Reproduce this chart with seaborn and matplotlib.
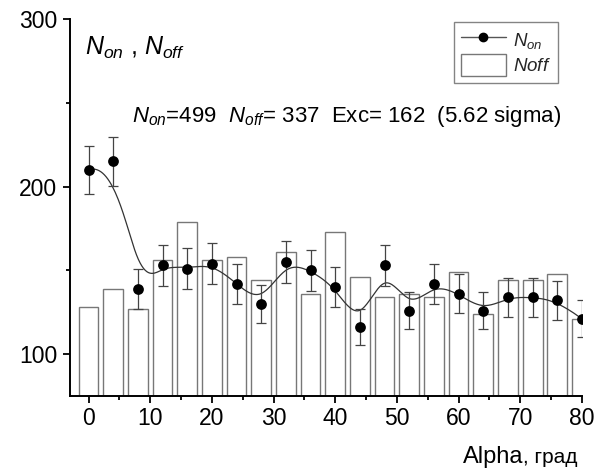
import numpy as np
import pandas as pd
import matplotlib
matplotlib.use("Agg")
import matplotlib.pyplot as plt
import seaborn as sns
from matplotlib.lines import Line2D
from matplotlib.patches import Patch

# ---- data ----
alpha = [0, 4, 8, 12, 16, 20, 24, 28, 32, 36, 40, 44, 48, 52, 56, 60, 64, 68, 72, 76, 80]
n_on = [210, 215, 139, 153, 151, 154, 142, 130, 155, 150, 140, 116, 153, 126, 142, 136, 126, 134, 134, 132, 121]
n_on_err = [14.5, 14.7, 11.8, 12.4, 12.3, 12.4, 11.9, 11.4, 12.4, 12.2, 11.8, 10.8, 12.4, 11.2, 11.9, 11.7, 11.2, 11.6, 11.6, 11.5, 11.0]
n_off = [128, 139, 127, 156, 179, 156, 158, 144, 161, 136, 173, 146, 134, 136, 134, 149, 124, 144, 144, 148, 121]
x_ticks = [0, 10, 20, 30, 40, 50, 60, 70, 80]
y_ticks = [100, 200, 300]

sns.set_theme(style="ticks")
plt.rcParams["font.family"] = ["Liberation Sans", "DejaVu Sans"]
plt.rcParams["mathtext.fontset"] = "custom"
plt.rcParams["mathtext.it"] = "Liberation Sans:italic"
plt.rcParams["mathtext.rm"] = "Liberation Sans"
plt.rcParams["mathtext.default"] = "it"


def bspline(cx, cy, k=3, num=600):
    cx = np.asarray(cx, float)
    cy = np.asarray(cy, float)
    n = len(cx)
    t = np.concatenate([np.zeros(k), np.arange(n - k + 1), np.full(k, n - k)]).astype(float)
    u = np.linspace(0, n - k, num)
    u[-1] -= 1e-9
    N = np.zeros((len(t) - 1, num))
    for i in range(len(t) - 1):
        N[i] = (u >= t[i]) & (u < t[i + 1])
    for p in range(1, k + 1):
        Nn = np.zeros((len(t) - 1 - p, num))
        for i in range(len(t) - 1 - p):
            a = 0.0
            d1 = t[i + p] - t[i]
            if d1 > 0:
                a = (u - t[i]) / d1 * N[i]
            b = 0.0
            d2 = t[i + p + 1] - t[i + 1]
            if d2 > 0:
                b = (t[i + p + 1] - u) / d2 * N[i + 1]
            Nn[i] = a + b
        N = Nn
    return N.T @ cx, N.T @ cy


df = pd.DataFrame({"alpha": alpha, "n_on": n_on, "err": n_on_err, "n_off": n_off})

fig = plt.figure(figsize=(6.0, 4.73), dpi=100)
ax = fig.add_axes([70 / 600, 1 - 396 / 473, (582 - 70) / 600, (396 - 19) / 473])

sns.barplot(data=df, x="alpha", y="n_off", native_scale=True, width=0.8,
            color="white", saturation=1, edgecolor="#777777", linewidth=1.0,
            errorbar=None, ax=ax, zorder=1)

sx, sy = bspline(df["alpha"], df["n_on"])
ax.plot(sx, sy, color="#333333", lw=0.9, zorder=3)

ax.errorbar(df["alpha"], df["n_on"], yerr=df["err"], fmt="none", ecolor="#444444",
            elinewidth=0.9, capsize=3.5, capthick=0.9, zorder=4)
sns.scatterplot(data=df, x="alpha", y="n_on", color="black", s=60, edgecolor="black",
                linewidth=0, ax=ax, zorder=5, legend=False)

ax.set_xlim(-3, 80)
ax.set_ylim(75, 300)
ax.set_xticks(x_ticks)
ax.set_yticks(y_ticks)
ax.set_xticks([5, 15, 25, 35, 45, 55, 65, 75], minor=True)
ax.set_yticks([150, 250], minor=True)
ax.tick_params(axis="both", which="major", labelsize=16.5, length=5, width=1.3,
               color="black", labelcolor="black", direction="out", pad=3)
ax.tick_params(axis="y", which="major", pad=4)
ax.tick_params(axis="both", which="minor", length=3, width=1.3, color="black", direction="out")
for s in ["left", "bottom"]:
    ax.spines[s].set_linewidth(1.4)
    ax.spines[s].set_color("black")
sns.despine(ax=ax)
ax.set_xlabel("")
ax.set_ylabel("")

fig.text(85 / 600, 1 - 55 / 473, r"$N_{on}$ , $N_{off}$", fontsize=18, color="black",
         va="baseline", ha="left")
fig.text(132 / 600, 1 - 122 / 473,
         r"$N_{on}$=499  $N_{off}$= 337  Exc= 162  (5.62 sigma)",
         fontsize=16, color="black", va="baseline", ha="left")

fig.text(523 / 600, 1 - 463 / 473, "Alpha", fontsize=17, color="black",
         va="baseline", ha="right")
fig.text(523 / 600, 1 - 463 / 473, ", град", fontsize=15, color="black",
         va="baseline", ha="left")

handles = [
    Line2D([0], [0], color="#555555", lw=1, marker="o", markersize=6,
           markerfacecolor="black", markeredgecolor="black"),
    Patch(facecolor="white", edgecolor="#777777", linewidth=1),
]
leg = ax.legend(handles, [r"$N_{on}$", r"$Noff$"], loc="upper right",
                bbox_to_anchor=((558 - 70) / 512, (396 - 22) / 377),
                borderaxespad=0, frameon=True, fancybox=False, fontsize=13.5,
                handlelength=2.4, handleheight=1.4, handletextpad=0.4,
                borderpad=0.35, labelspacing=0.2)
leg.get_frame().set_edgecolor("#666666")
leg.get_frame().set_linewidth(1.0)

fig.savefig("out.png", dpi=100, facecolor="white")
